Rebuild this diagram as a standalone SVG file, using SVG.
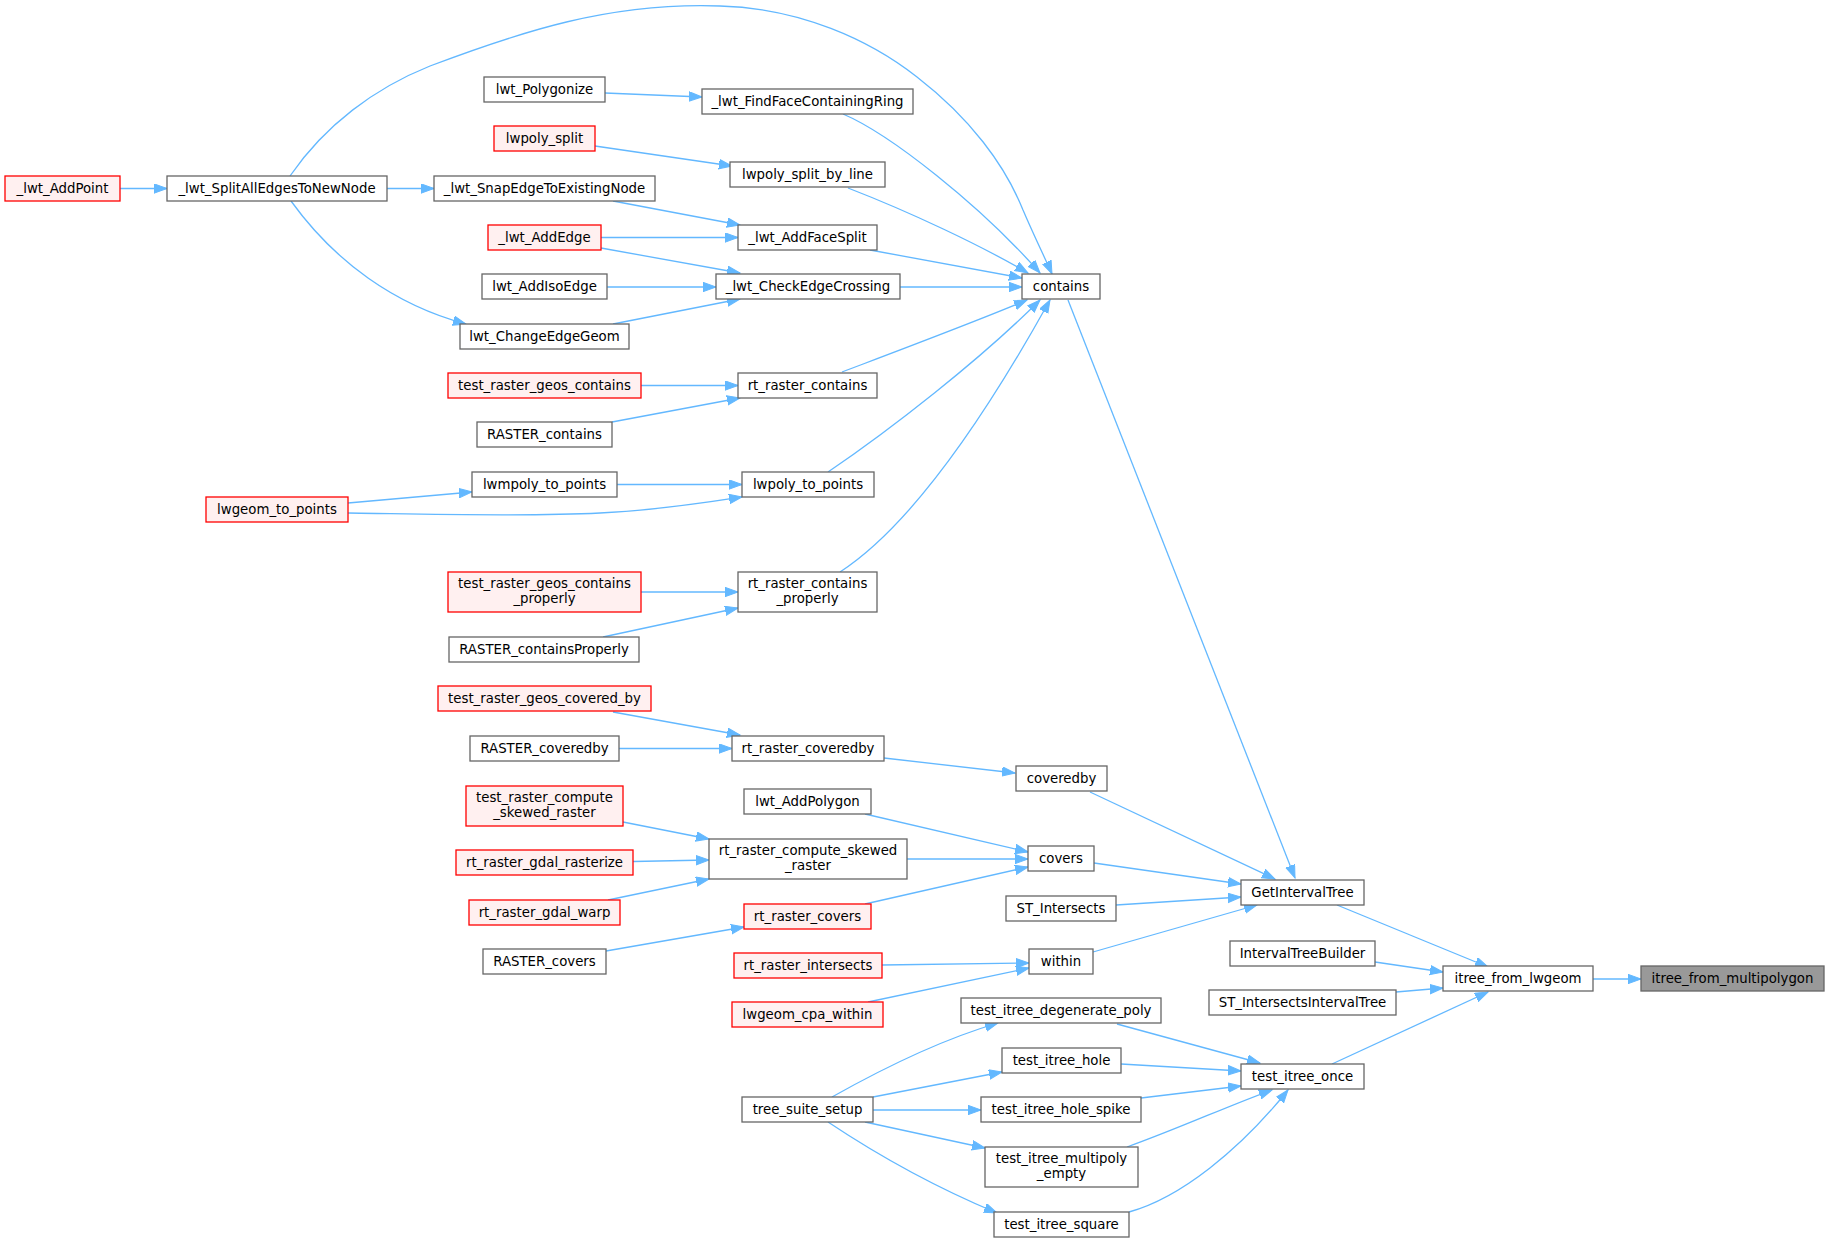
<svg xmlns="http://www.w3.org/2000/svg" width="1829" height="1242" viewBox="0 0 1829 1242">
<style>
.n rect{fill:#ffffff;stroke:#666666;stroke-width:1.3}
.r rect{fill:#fff0f0;stroke:#ff0000;stroke-width:1.3}
.m rect{fill:#999999;stroke:#666666;stroke-width:1.3}
text{font-family:"DejaVu Sans","Liberation Sans",sans-serif;font-size:13.3px;fill:#000000;text-anchor:middle}
#edges path{fill:none;stroke:#63b8ff;stroke-width:1.3;marker-end:url(#a)}
</style>
<defs>
<marker id="a" markerWidth="15" markerHeight="11" refX="13" refY="5" orient="auto" markerUnits="userSpaceOnUse"><path d="M0,0.3 L13,5 L0,9.7 z" fill="#63b8ff" stroke="#63b8ff" stroke-width="1"/></marker>
</defs>
<rect width="1829" height="1242" fill="#ffffff"/>
<g id="edges">
<path d="M120,188.5 L167,188.5"/>
<path d="M387,188.5 L434,188.5"/>
<path d="M291,201 C335,262 395,305 466,324"/>
<path d="M290,176 C325,125 375,88 430,66 C520,32 610,2 720,6 C800,8 870,40 917,77 C970,118 1005,165 1023,210 C1035,238 1045,258 1052,274"/>
<path d="M605,93 L702,97"/>
<path d="M595,146 L732,166"/>
<path d="M613,201 L740,225"/>
<path d="M601,237.5 L738,237.5"/>
<path d="M601,248 L740,273"/>
<path d="M607,287 L716,287"/>
<path d="M613,324 L740,299"/>
<path d="M641,385.5 L738,385.5"/>
<path d="M612,422 L740,398"/>
<path d="M617,484.5 L742,484.5"/>
<path d="M348,503 L472,492"/>
<path d="M348,513 C420,514 520,517 600,513 C660,510 710,502 742,497"/>
<path d="M641,592 L738,592"/>
<path d="M603,637 L738,608"/>
<path d="M613,712 L740,735"/>
<path d="M619,748.5 L732,748.5"/>
<path d="M623,822 L709,839"/>
<path d="M633,861.5 L709,860"/>
<path d="M608,900 L709,879"/>
<path d="M606,951 L744,927"/>
<path d="M843,114 C890,134 980,205 1040,273"/>
<path d="M848,188 C910,212 980,245 1028,273"/>
<path d="M870,250 L1022,278"/>
<path d="M900,287 L1022,287"/>
<path d="M842,372 C900,350 980,320 1027,300"/>
<path d="M828,472 C890,430 980,360 1040,300"/>
<path d="M840,572 C920,520 1000,390 1050,300"/>
<path d="M1068,300 L1295,878"/>
<path d="M884,758 L1015,773"/>
<path d="M1090,792 L1275,879"/>
<path d="M865,814 L1028,852"/>
<path d="M907,859 L1028,859"/>
<path d="M865,904 L1028,867"/>
<path d="M1094,863 L1241,884"/>
<path d="M1116,905 L1241,897"/>
<path d="M1093,952 L1257,905"/>
<path d="M882,965 L1029,963"/>
<path d="M868,1002 L1029,968"/>
<path d="M1337,905 L1488,967"/>
<path d="M1375,962 L1443,972"/>
<path d="M1396,992 L1443,988"/>
<path d="M1332,1064 L1488,992"/>
<path d="M1593,979 L1641,979"/>
<path d="M1117,1024 L1260,1063"/>
<path d="M1121,1064 L1241,1071"/>
<path d="M1141,1098 L1241,1086"/>
<path d="M1127,1147 C1180,1128 1230,1105 1272,1090"/>
<path d="M1129,1212 C1180,1198 1240,1150 1288,1090"/>
<path d="M832,1097 C880,1070 940,1040 998,1023"/>
<path d="M873,1097 L1002,1072"/>
<path d="M873,1110 L981,1110"/>
<path d="M865,1122 L985,1148"/>
<path d="M828,1122 C870,1150 930,1185 997,1213"/>
</g>
<g id="n1" class="r"><rect x="5" y="176" width="115" height="25"/><text x="62.5" y="193">_lwt_AddPoint</text></g>
<g id="n2" class="n"><rect x="167" y="176" width="220" height="25"/><text x="277" y="193">_lwt_SplitAllEdgesToNewNode</text></g>
<g id="n3" class="n"><rect x="484" y="77" width="121" height="25"/><text x="544.5" y="94">lwt_Polygonize</text></g>
<g id="n4" class="r"><rect x="494" y="126" width="101" height="25"/><text x="544.5" y="143">lwpoly_split</text></g>
<g id="n5" class="n"><rect x="434" y="176" width="221" height="25"/><text x="544.5" y="193">_lwt_SnapEdgeToExistingNode</text></g>
<g id="n6" class="r"><rect x="488" y="225" width="113" height="25"/><text x="544.5" y="242">_lwt_AddEdge</text></g>
<g id="n7" class="n"><rect x="482" y="274" width="125" height="25"/><text x="544.5" y="291">lwt_AddIsoEdge</text></g>
<g id="n8" class="n"><rect x="460" y="324" width="169" height="25"/><text x="544.5" y="341">lwt_ChangeEdgeGeom</text></g>
<g id="n9" class="r"><rect x="448" y="373" width="193" height="25"/><text x="544.5" y="390">test_raster_geos_contains</text></g>
<g id="n10" class="n"><rect x="477" y="422" width="135" height="25"/><text x="544.5" y="439">RASTER_contains</text></g>
<g id="n11" class="n"><rect x="472" y="472" width="145" height="25"/><text x="544.5" y="489">lwmpoly_to_points</text></g>
<g id="n12" class="r"><rect x="206" y="497" width="142" height="25"/><text x="277" y="514">lwgeom_to_points</text></g>
<g id="n13" class="r"><rect x="448" y="572" width="193" height="40"/><text x="544.5" y="588">test_raster_geos_contains</text><text x="544.5" y="603">_properly</text></g>
<g id="n14" class="n"><rect x="449" y="637" width="190" height="25"/><text x="544" y="654">RASTER_containsProperly</text></g>
<g id="n15" class="r"><rect x="438" y="686" width="213" height="25"/><text x="544.5" y="703">test_raster_geos_covered_by</text></g>
<g id="n16" class="n"><rect x="470" y="736" width="149" height="25"/><text x="544.5" y="753">RASTER_coveredby</text></g>
<g id="n17" class="r"><rect x="466" y="786" width="157" height="40"/><text x="544.5" y="802">test_raster_compute</text><text x="544.5" y="817">_skewed_raster</text></g>
<g id="n18" class="r"><rect x="456" y="850" width="177" height="25"/><text x="544.5" y="867">rt_raster_gdal_rasterize</text></g>
<g id="n19" class="r"><rect x="469" y="900" width="151" height="25"/><text x="544.5" y="917">rt_raster_gdal_warp</text></g>
<g id="n20" class="n"><rect x="483" y="949" width="123" height="25"/><text x="544.5" y="966">RASTER_covers</text></g>
<g id="n21" class="n"><rect x="702" y="89" width="211" height="25"/><text x="807.5" y="106">_lwt_FindFaceContainingRing</text></g>
<g id="n22" class="n"><rect x="730" y="162" width="155" height="25"/><text x="807.5" y="179">lwpoly_split_by_line</text></g>
<g id="n23" class="n"><rect x="738" y="225" width="139" height="25"/><text x="807.5" y="242">_lwt_AddFaceSplit</text></g>
<g id="n24" class="n"><rect x="716" y="274" width="184" height="25"/><text x="808" y="291">_lwt_CheckEdgeCrossing</text></g>
<g id="n25" class="n"><rect x="738" y="373" width="139" height="25"/><text x="807.5" y="390">rt_raster_contains</text></g>
<g id="n26" class="n"><rect x="742" y="472" width="132" height="25"/><text x="808" y="489">lwpoly_to_points</text></g>
<g id="n27" class="n"><rect x="738" y="572" width="139" height="40"/><text x="807.5" y="588">rt_raster_contains</text><text x="807.5" y="603">_properly</text></g>
<g id="n28" class="n"><rect x="732" y="736" width="152" height="25"/><text x="808" y="753">rt_raster_coveredby</text></g>
<g id="n29" class="n"><rect x="744" y="789" width="127" height="25"/><text x="807.5" y="806">lwt_AddPolygon</text></g>
<g id="n30" class="n"><rect x="709" y="839" width="198" height="40"/><text x="808" y="855">rt_raster_compute_skewed</text><text x="808" y="870">_raster</text></g>
<g id="n31" class="r"><rect x="744" y="904" width="127" height="25"/><text x="807.5" y="921">rt_raster_covers</text></g>
<g id="n32" class="r"><rect x="734" y="953" width="148" height="25"/><text x="808" y="970">rt_raster_intersects</text></g>
<g id="n33" class="r"><rect x="732" y="1002" width="151" height="25"/><text x="807.5" y="1019">lwgeom_cpa_within</text></g>
<g id="n34" class="n"><rect x="742" y="1097" width="131" height="25"/><text x="807.5" y="1114">tree_suite_setup</text></g>
<g id="n35" class="n"><rect x="1022" y="274" width="78" height="25"/><text x="1061" y="291">contains</text></g>
<g id="n36" class="n"><rect x="1016" y="766" width="91" height="25"/><text x="1061.5" y="783">coveredby</text></g>
<g id="n37" class="n"><rect x="1028" y="846" width="66" height="25"/><text x="1061" y="863">covers</text></g>
<g id="n38" class="n"><rect x="1006" y="896" width="110" height="25"/><text x="1061" y="913">ST_Intersects</text></g>
<g id="n39" class="n"><rect x="1029" y="949" width="64" height="25"/><text x="1061" y="966">within</text></g>
<g id="n40" class="n"><rect x="961" y="998" width="200" height="25"/><text x="1061" y="1015">test_itree_degenerate_poly</text></g>
<g id="n41" class="n"><rect x="1002" y="1048" width="119" height="25"/><text x="1061.5" y="1065">test_itree_hole</text></g>
<g id="n42" class="n"><rect x="981" y="1097" width="160" height="25"/><text x="1061" y="1114">test_itree_hole_spike</text></g>
<g id="n43" class="n"><rect x="985" y="1147" width="153" height="40"/><text x="1061.5" y="1163">test_itree_multipoly</text><text x="1061.5" y="1178">_empty</text></g>
<g id="n44" class="n"><rect x="994" y="1212" width="135" height="25"/><text x="1061.5" y="1229">test_itree_square</text></g>
<g id="n45" class="n"><rect x="1241" y="880" width="123" height="25"/><text x="1302.5" y="897">GetIntervalTree</text></g>
<g id="n46" class="n"><rect x="1230" y="941" width="145" height="25"/><text x="1302.5" y="958">IntervalTreeBuilder</text></g>
<g id="n47" class="n"><rect x="1209" y="990" width="187" height="25"/><text x="1302.5" y="1007">ST_IntersectsIntervalTree</text></g>
<g id="n48" class="n"><rect x="1241" y="1064" width="123" height="25"/><text x="1302.5" y="1081">test_itree_once</text></g>
<g id="n49" class="n"><rect x="1443" y="966" width="150" height="25"/><text x="1518" y="983">itree_from_lwgeom</text></g>
<g id="n50" class="m"><rect x="1641" y="966" width="183" height="25"/><text x="1732.5" y="983">itree_from_multipolygon</text></g>
</svg>
